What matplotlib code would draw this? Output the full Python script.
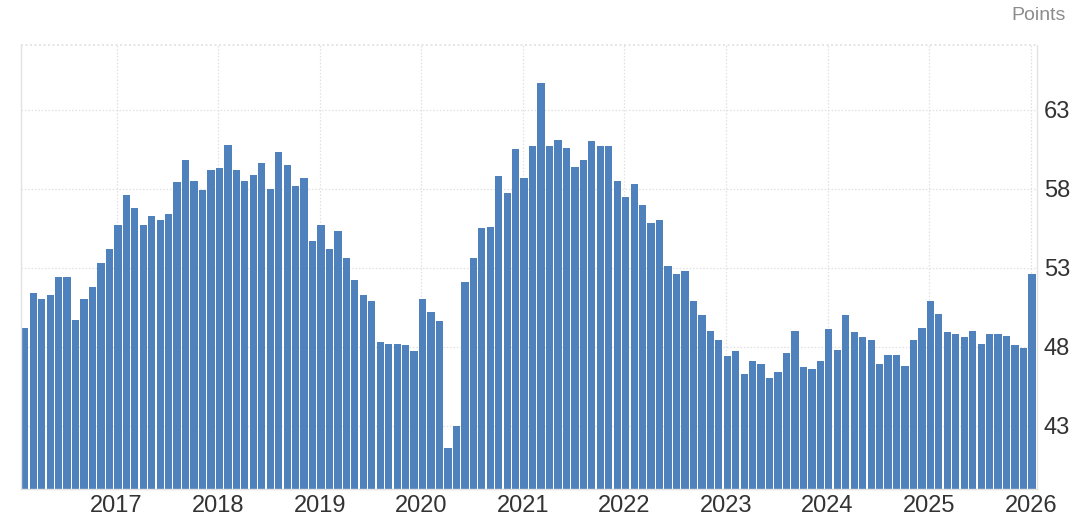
import matplotlib
matplotlib.use("Agg")
import matplotlib.pyplot as plt
import pandas as pd

# ISM-style manufacturing index, monthly, Feb 2016 - Jan 2026 (points)
start_month = "2016-02"
values_2016 = [49.2, 51.4, 51.0, 51.3, 52.4, 52.4, 49.7, 51.0, 51.8, 53.3, 54.2]
values_2017 = [55.7, 57.6, 56.8, 55.7, 56.3, 56.0, 56.4, 58.4, 59.8, 58.5, 57.9, 59.2]
values_2018 = [59.3, 60.8, 59.2, 58.5, 58.9, 59.6, 58.0, 60.3, 59.5, 58.2, 58.7, 54.7]
values_2019 = [55.7, 54.2, 55.3, 53.6, 52.2, 51.3, 50.9, 48.3, 48.2, 48.2, 48.1, 47.7]
values_2020 = [51.0, 50.2, 49.6, 41.6, 43.0, 52.1, 53.6, 55.5, 55.6, 58.8, 57.7, 60.5]
values_2021 = [58.7, 60.7, 64.7, 60.7, 61.1, 60.6, 59.4, 59.8, 61.0, 60.7, 60.7, 58.5]
values_2022 = [57.5, 58.3, 57.0, 55.8, 56.0, 53.1, 52.6, 52.8, 50.9, 50.0, 49.0, 48.4]
values_2023 = [47.4, 47.7, 46.3, 47.1, 46.9, 46.0, 46.4, 47.6, 49.0, 46.7, 46.6, 47.1]
values_2024 = [49.1, 47.8, 50.0, 48.9, 48.6, 48.4, 46.9, 47.5, 47.5, 46.8, 48.4, 49.2]
values_2025 = [50.9, 50.1, 48.9, 48.8, 48.6, 49.0, 48.2, 48.8, 48.8, 48.7, 48.1, 47.9]
values_2026 = [52.6]

year_labels = ["2017", "2018", "2019", "2020", "2021", "2022", "2023", "2024", "2025", "2026"]
y_ticks = [43, 48, 53, 58, 63]
unit_label = "Points"

values = (values_2016 + values_2017 + values_2018 + values_2019 + values_2020 +
          values_2021 + values_2022 + values_2023 + values_2024 + values_2025 + values_2026)
months = pd.period_range(start_month, periods=len(values), freq="M")
# month index counted from Jan 2016
x = [(p.year - 2016) * 12 + (p.month - 1) + 0.15 for p in months]
year_pos = [(int(y) - 2016) * 12 for y in year_labels]

plt.rcParams['font.family'] = ['Liberation Sans', 'DejaVu Sans']

fig = plt.figure(figsize=(10.78, 5.28), dpi=100)
ax = fig.add_axes([20.7 / 1078, 1 - 489.3 / 528, (1036.7 - 20.7) / 1078, (489.3 - 45) / 528])

ax.bar(x, values, width=0.86, color="#4f81bd", edgecolor="none", zorder=2)

ax.set_xlim(0.67, 120.71)
ax.set_ylim(38.97, 67.1)

ax.set_xticks(year_pos)
ax.set_xticklabels(year_labels)
ax.set_yticks(y_ticks)
ax.set_yticklabels([str(t) for t in y_ticks])

ax.yaxis.tick_right()
ax.tick_params(axis='both', length=0, labelsize=17, labelcolor="#333333")
ax.tick_params(axis='y', pad=5)
ax.tick_params(axis='x', pad=4)

ax.grid(True, color="#e0e0e0", linestyle=(0, (1.2, 1.5)), linewidth=0.9, zorder=0)
ax.axhline(67.1, color="#e0e0e0", linestyle=(0, (1.2, 1.5)), linewidth=1.2, zorder=0, clip_on=False)

for side in ["top"]:
    ax.spines[side].set_visible(False)
for side in ["left", "right", "bottom"]:
    ax.spines[side].set_color("#e2e2e2")
    ax.spines[side].set_linewidth(1.0)

fig.text(1066 / 1078, 1 - 16 / 528, unit_label, ha="right", va="center",
         fontsize=14, color="#8c8c8c")

fig.savefig("out.png", dpi=100, facecolor="white")
